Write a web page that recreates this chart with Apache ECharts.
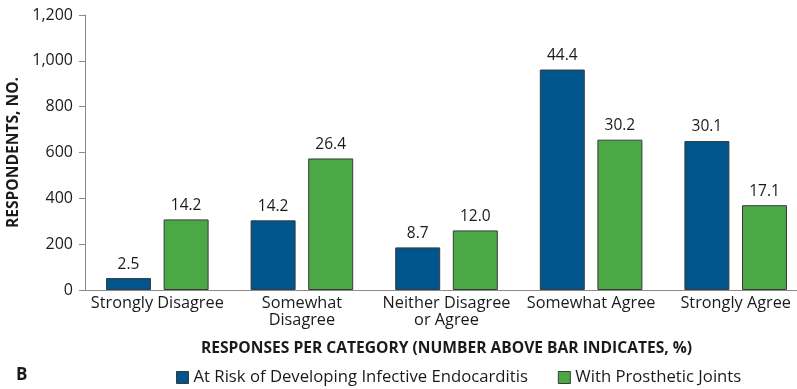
<!DOCTYPE html>
<html>
<head>
<meta charset="utf-8">
<script src="https://cdn.jsdelivr.net/npm/echarts@6/dist/echarts.min.js"></script>
<style>
  html, body { margin: 0; padding: 0; background: #ffffff; }
  #chart { width: 797px; height: 389px; }
</style>
</head>
<body>
<div id="chart"></div>
<script>
// Response categories along the x axis
const categories = [
  'Strongly Disagree',
  'Somewhat\nDisagree',
  'Neither Disagree\nor Agree',
  'Somewhat Agree',
  'Strongly Agree'
];

// Series names
const seriesNames = [
  'At Risk of Developing Infective Endocarditis',
  'With Prosthetic Joints'
];

// Respondent counts per category
const endocarditisCounts = [52, 304, 186, 962, 650];
const jointsCounts = [308, 574, 260, 656, 370];

// Share of respondents (%) shown above each bar
const endocarditisPct = ['2.5', '14.2', '8.7', '44.4', '30.1'];
const jointsPct = ['14.2', '26.4', '12.0', '30.2', '17.1'];

// Y axis range
const yMin = 0;
const yMax = 1200;
const yStep = 200;

const FONT = '"Open Sans", "Noto Sans", sans-serif';
const TEXT = '#1a1a1a';

const chart = echarts.init(document.getElementById('chart'), null, { renderer: 'canvas' });

function barSeries(name, counts, pct, color) {
  return {
    name: name,
    type: 'bar',
    data: counts,
    barWidth: 45,
    barGap: '28%',
    itemStyle: { color: color, borderColor: '#3a3a3a', borderWidth: 1 },
    label: {
      show: true,
      position: 'top',
      distance: 6,
      fontFamily: FONT,
      fontSize: 15.5,
      color: TEXT,
      formatter: p => pct[p.dataIndex]
    }
  };
}

chart.setOption({
  animation: false,
  textStyle: { fontFamily: FONT },
  title: {
    text: 'B',
    left: 11,
    top: 362,
    textStyle: { fontFamily: FONT, fontSize: 17, fontWeight: 'bold', color: TEXT }
  },
  legend: {
    data: seriesNames,
    left: 171,
    top: 364,
    itemWidth: 12,
    itemHeight: 12,
    itemGap: 30,
    icon: 'rect',
    itemStyle: { borderColor: '#3a3a3a', borderWidth: 1 },
    textStyle: { fontFamily: FONT, fontSize: 16.7, color: TEXT, padding: [0, 0, 0, 0] }
  },
  grid: {
    left: 85,
    top: 15,
    width: 723,
    height: 275,
    outerBoundsMode: 'none',
    containLabel: false
  },
  xAxis: {
    type: 'category',
    data: categories,
    name: 'RESPONSES PER CATEGORY (NUMBER ABOVE BAR INDICATES, %)',
    nameLocation: 'middle',
    nameGap: 51,
    nameTextStyle: { fontFamily: FONT, fontSize: 15.6, fontWeight: 'bold', color: TEXT },
    axisLine: { lineStyle: { color: '#8a8a8a', width: 1 } },
    axisTick: { show: false },
    axisLabel: {
      fontFamily: FONT,
      fontSize: 16.3,
      color: TEXT,
      margin: 5,
      lineHeight: 17,
      interval: 0
    }
  },
  yAxis: {
    type: 'value',
    min: yMin,
    max: yMax,
    interval: yStep,
    name: 'RESPONDENTS, NO.',
    nameLocation: 'middle',
    nameGap: 57,
    nameRotate: 90,
    nameTextStyle: { fontFamily: FONT, fontSize: 15.6, fontWeight: 'bold', color: TEXT },
    axisLine: { show: true, lineStyle: { color: '#8a8a8a', width: 1 } },
    axisTick: { show: true, length: 6, lineStyle: { color: '#8a8a8a' } },
    splitLine: { show: false },
    axisLabel: {
      fontFamily: FONT,
      fontSize: 16,
      color: TEXT,
      margin: 12,
      formatter: v => v.toLocaleString('en-US')
    }
  },
  series: [
    barSeries(seriesNames[0], endocarditisCounts, endocarditisPct, '#00558c'),
    barSeries(seriesNames[1], jointsCounts, jointsPct, '#4aa945')
  ]
});
</script>
</body>
</html>
